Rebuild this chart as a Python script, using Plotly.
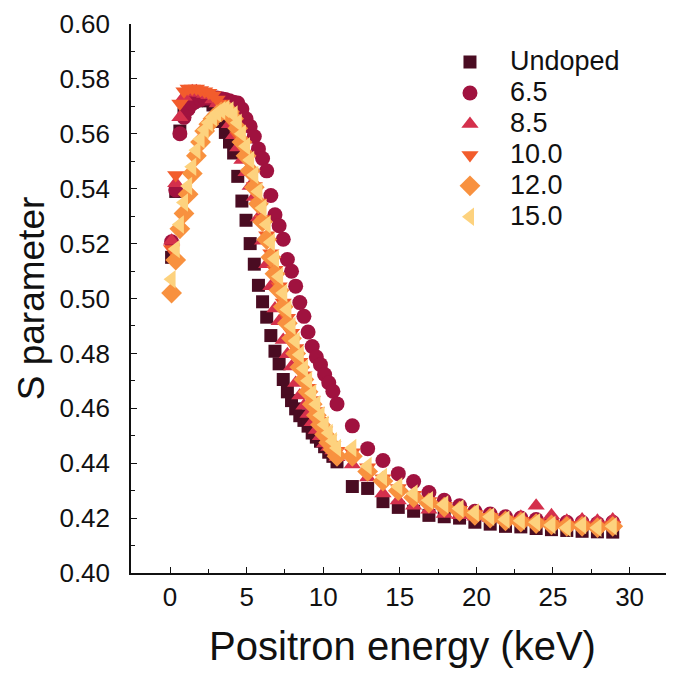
import plotly.graph_objects as go

energy = [0.10, 0.37, 0.64, 0.91, 1.18, 1.45, 1.72, 1.99, 2.26, 2.53, 2.80, 3.07, 3.34, 3.61,
          3.88, 4.15, 4.42, 4.69, 4.96, 5.23, 5.50, 5.77, 6.04, 6.31, 6.58, 6.85, 7.12, 7.39,
          7.66, 7.93, 8.20, 8.47, 8.74, 9.01, 9.28, 9.55, 9.82, 10.09, 10.36, 10.63, 10.90,
          11.9, 12.9, 13.9, 14.9, 15.9, 16.9, 17.9, 18.9, 19.9, 20.9, 21.9, 22.9, 23.9, 24.9,
          25.9, 26.9, 27.9, 28.9]

s_undoped = [0.515, 0.539, 0.561, 0.567, 0.570, 0.5715, 0.572, 0.5725, 0.5725, 0.572, 0.5705, 0.568, 0.5645, 0.5605,
             0.557, 0.553, 0.5445, 0.5355, 0.5285, 0.520, 0.5125, 0.5048, 0.4988, 0.4932, 0.4865, 0.4808, 0.4762, 0.4705,
             0.466, 0.4628, 0.4598, 0.4573, 0.4556, 0.4535, 0.451, 0.4495, 0.448, 0.446, 0.444, 0.4425, 0.4405,
             0.4315, 0.4308, 0.426, 0.4239, 0.4225, 0.421, 0.4205, 0.420, 0.4185, 0.4178, 0.417, 0.4168, 0.4162, 0.4158,
             0.4155, 0.4152, 0.415, 0.4149]

s_65 = [0.5207, 0.5395, 0.560, 0.566, 0.569, 0.571, 0.572, 0.5725, 0.573, 0.573, 0.573, 0.573, 0.5728, 0.5725,
        0.572, 0.5715, 0.5712, 0.569, 0.5655, 0.5627, 0.559, 0.5545, 0.551, 0.5465, 0.5375, 0.5305, 0.5265, 0.5216,
        0.5142, 0.5099, 0.5045, 0.4985, 0.4935, 0.4878, 0.4825, 0.4787, 0.4759, 0.4723, 0.4693, 0.4662, 0.4616,
        0.4536, 0.4453, 0.441, 0.4362, 0.4333, 0.4293, 0.4265, 0.4245, 0.4225, 0.4215, 0.4205, 0.420, 0.4195, 0.419,
        0.4185, 0.4185, 0.418, 0.4185]

s_85 = [0.521, 0.542, 0.566, 0.5735, 0.575, 0.5755, 0.5755, 0.575, 0.5745, 0.574, 0.5725, 0.571, 0.569, 0.5665,
        0.5635, 0.5595, 0.555, 0.5505, 0.546, 0.541, 0.537, 0.5295, 0.521, 0.5125, 0.5045, 0.4964, 0.4917, 0.4849,
        0.4797, 0.4752, 0.4692, 0.4647, 0.4609, 0.4579, 0.4549, 0.4521, 0.4498, 0.4472, 0.4459, 0.4446, 0.4422,
        0.4395, 0.4348, 0.429, 0.4264, 0.4245, 0.423, 0.4215, 0.421, 0.4205, 0.420, 0.4195, 0.4205, 0.4245, 0.421,
        0.419, 0.4195, 0.419, 0.4195]

s_100 = [0.518, 0.545, 0.571, 0.5755, 0.5765, 0.5765, 0.5765, 0.576, 0.5755, 0.575, 0.574, 0.5725, 0.571, 0.569,
         0.5665, 0.5635, 0.5595, 0.5555, 0.551, 0.546, 0.541, 0.535, 0.529, 0.523, 0.5165, 0.5105, 0.5045, 0.4985,
         0.493, 0.4875, 0.482, 0.477, 0.472, 0.4675, 0.463, 0.459, 0.4555, 0.452, 0.449, 0.4465, 0.4445,
         0.444, 0.4385, 0.4345, 0.431, 0.4285, 0.4262, 0.4245, 0.423, 0.4215, 0.4205, 0.4195, 0.419, 0.4185, 0.418,
         0.4175, 0.4175, 0.417, 0.4175]

s_120 = [0.502, 0.514, 0.5254, 0.531, 0.538, 0.5455, 0.552, 0.557, 0.561, 0.5635, 0.5655, 0.567, 0.568, 0.5685,
         0.568, 0.5655, 0.562, 0.557, 0.552, 0.5465, 0.5405, 0.5345, 0.528, 0.5215, 0.515, 0.509, 0.503, 0.497,
         0.491, 0.4855, 0.480, 0.475, 0.4705, 0.466, 0.4615, 0.4575, 0.454, 0.4505, 0.4475, 0.445, 0.4425,
         0.4425, 0.437, 0.4335, 0.430, 0.4275, 0.4255, 0.424, 0.4225, 0.421, 0.420, 0.419, 0.4185, 0.418, 0.4175,
         0.417, 0.417, 0.4165, 0.417]

s_150 = [0.507, 0.518, 0.527, 0.535, 0.541, 0.548, 0.554, 0.558, 0.5615, 0.564, 0.566, 0.5675, 0.5685, 0.569,
         0.5685, 0.567, 0.564, 0.560, 0.5555, 0.5505, 0.545, 0.539, 0.533, 0.527, 0.5205, 0.5145, 0.508, 0.502,
         0.496, 0.490, 0.4845, 0.4795, 0.4745, 0.470, 0.4655, 0.4615, 0.4575, 0.454, 0.451, 0.448, 0.4455,
         0.4455, 0.439, 0.435, 0.4315, 0.429, 0.4265, 0.425, 0.4235, 0.422, 0.4205, 0.4195, 0.419, 0.4185, 0.4175,
         0.4165, 0.4175, 0.4165, 0.417]

series_names = ["Undoped", "6.5", "8.5", "10.0", "12.0", "15.0"]
series_values = [s_undoped, s_65, s_85, s_100, s_120, s_150]
colors = ["#4a0c22", "#a0123f", "#d4304c", "#f25c2c", "#f8913f", "#fdd27e"]
symbols = ["square", "circle", "triangle-up", "triangle-down", "diamond", "triangle-left"]
sizes = [13, 15, 15, 15, 16, 16]

x_ticks = [0, 5, 10, 15, 20, 25, 30]
y_ticks = [0.40, 0.42, 0.44, 0.46, 0.48, 0.50, 0.52, 0.54, 0.56, 0.58, 0.60]

fig = go.Figure()
for name, vals, col, sym, sz in zip(series_names, series_values, colors, symbols, sizes):
    fig.add_trace(go.Scatter(
        x=energy, y=vals, mode="markers",
        name=f"<span style='font-size:27px'>{name}</span>",
        marker=dict(symbol=sym, size=sz, color=col, line=dict(width=0)),
    ))

font_family = "Liberation Sans, Arial, sans-serif"
# the page body adds an 8px margin, so the figure is sized to fit the window
fig.update_layout(
    width=666, height=669,
    margin=dict(l=123, r=0, t=16, b=104, autoexpand=False),
    paper_bgcolor="white", plot_bgcolor="white",
    font=dict(family=font_family, color="#111111"),
    showlegend=True,
    legend=dict(x=0.5506, y=0.968, xanchor="left", yanchor="top",
                font=dict(size=21.5, family=font_family, color="#111111"),
                bgcolor="rgba(0,0,0,0)", itemwidth=70, tracegroupgap=0),
    xaxis=dict(
        range=[-2.55, 32.9], tickvals=x_ticks, ticktext=[str(v) for v in x_ticks],
        showline=True, linecolor="#111111", linewidth=1.5, mirror=False, automargin=False,
        ticks="inside", ticklen=6, tickwidth=1.3, tickcolor="#111111",
        minor=dict(dtick=2.5, ticks="inside", ticklen=4, tickwidth=1.2, tickcolor="#111111", showgrid=False),
        showgrid=False, zeroline=False, ticklabeloverflow="allow",
        tickfont=dict(size=26, family=font_family, color="#111111"),
        ticklabelstandoff=0,
        title=dict(text="Positron energy (keV)", font=dict(size=40, family=font_family, color="#111111"), standoff=21),
    ),
    yaxis=dict(
        range=[0.40, 0.60], tickvals=y_ticks, ticktext=[f"{v:.2f}" for v in y_ticks],
        showline=True, linecolor="#111111", linewidth=1.5, mirror=False, automargin=False,
        ticks="inside", ticklen=6, tickwidth=1.3, tickcolor="#111111",
        minor=dict(dtick=0.01, ticks="inside", ticklen=4, tickwidth=1.2, tickcolor="#111111", showgrid=False),
        showgrid=False, zeroline=False, ticklabeloverflow="allow",
        tickfont=dict(size=26, family=font_family, color="#111111"),
        ticklabelstandoff=14,
        title=dict(text="S parameter", font=dict(size=37, family=font_family, color="#111111"), standoff=3),
    ),
)

fig.write_html("out.html")
